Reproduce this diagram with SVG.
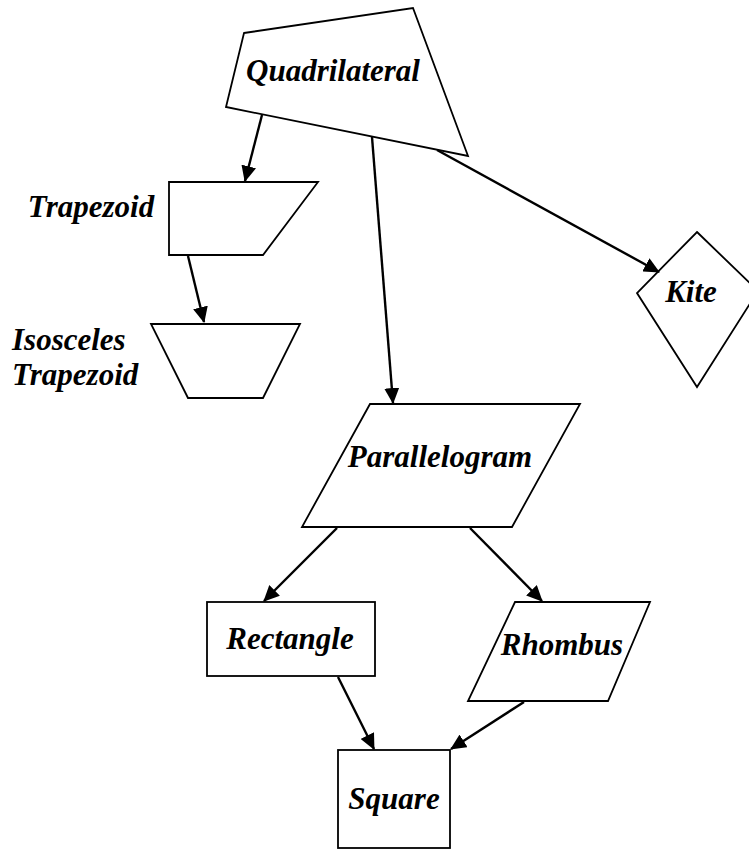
<svg xmlns="http://www.w3.org/2000/svg" width="749" height="849" viewBox="0 0 749 849">
<style>
.shape{fill:#fff;stroke:#000;stroke-width:1.8;stroke-linejoin:miter}
.lbl{font-family:"Liberation Serif","Times New Roman",serif;font-weight:bold;font-style:italic;font-size:31px;fill:#000}
.conn{stroke:#000;stroke-width:2.4;fill:none;marker-end:url(#arr)}
</style>
<defs>
<marker id="arr" viewBox="0 0 16 15" markerWidth="16" markerHeight="15" refX="15" refY="7.5" orient="auto" markerUnits="userSpaceOnUse">
<path d="M0,0 L16,7.5 L0,15 z" fill="#000"/>
</marker>
</defs>
<rect width="749" height="849" fill="#fff"/>
<g id="quadrilateral">
<polygon class="shape" points="244,33 413,8 468,156 226,107"/>
<text class="lbl" x="333" y="81" text-anchor="middle">Quadrilateral</text>
</g>
<g id="trapezoid">
<polygon class="shape" points="169,182 318,182 263,255 169,255"/>
<text class="lbl" x="91" y="217" text-anchor="middle">Trapezoid</text>
</g>
<g id="isosceles">
<polygon class="shape" points="151,324 300,324 263,398 188,398"/>
<text class="lbl" x="12" y="350">Isosceles</text>
<text class="lbl" x="12" y="385">Trapezoid</text>
</g>
<g id="kite">
<polygon class="shape" points="697,232 758,291 697,387 637,293"/>
<text class="lbl" x="691" y="302" text-anchor="middle">Kite</text>
</g>
<g id="parallelogram">
<polygon class="shape" points="370,404 580,404 512,527 302,527"/>
<text class="lbl" x="440" y="467" text-anchor="middle">Parallelogram</text>
</g>
<g id="rectangle">
<rect class="shape" x="207" y="602" width="168" height="74"/>
<text class="lbl" x="290" y="649" text-anchor="middle">Rectangle</text>
</g>
<g id="rhombus">
<polygon class="shape" points="515,602 650,602 608,701 468,701"/>
<text class="lbl" x="562" y="655" text-anchor="middle">Rhombus</text>
</g>
<g id="square">
<rect class="shape" x="338" y="750" width="112" height="98"/>
<text class="lbl" x="394" y="809" text-anchor="middle">Square</text>
</g>
<g id="connectors">
<line class="conn" x1="262" y1="115" x2="245" y2="181"/>
<line class="conn" x1="188" y1="256" x2="204" y2="322"/>
<line class="conn" x1="372" y1="137" x2="393" y2="403"/>
<line class="conn" x1="437" y1="150" x2="659" y2="272"/>
<line class="conn" x1="337" y1="528" x2="264" y2="601"/>
<line class="conn" x1="470" y1="528" x2="542" y2="601"/>
<line class="conn" x1="338" y1="677" x2="374" y2="749"/>
<line class="conn" x1="524" y1="702" x2="451" y2="749"/>
</g>
</svg>
